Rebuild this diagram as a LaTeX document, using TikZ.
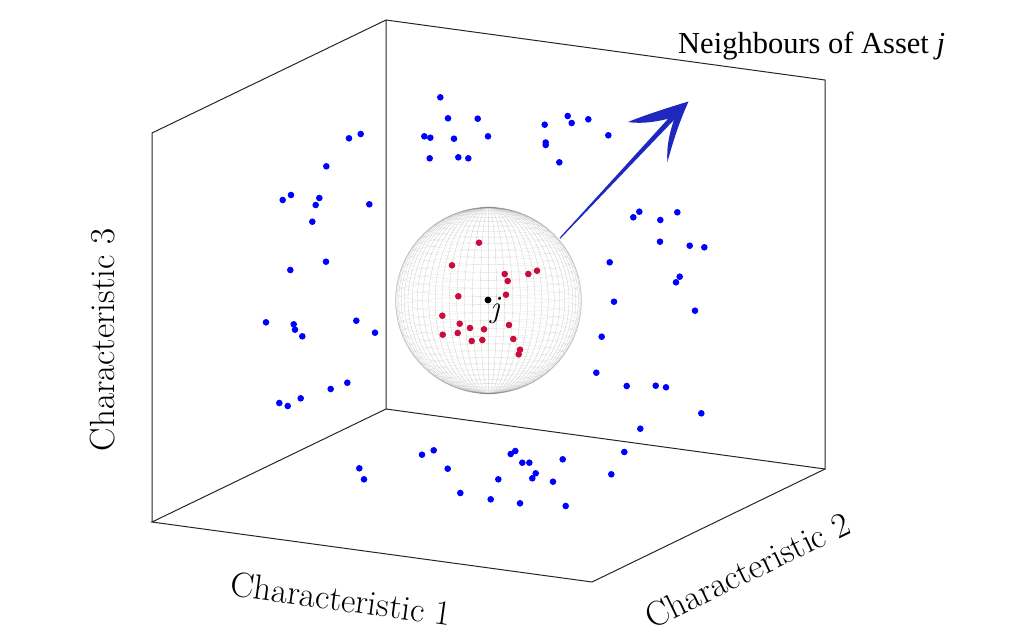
\documentclass[tikz,border=0pt]{standalone}
\usepackage{fontspec}
\usetikzlibrary{calc}
\newfontfamily\titlefont{Liberation Serif}
\definecolor{dotblue}{RGB}{0,0,255}
\definecolor{dotred}{RGB}{200,12,60}
\definecolor{arrowblue}{RGB}{30,40,190}
\tikzset{
  boxline/.style={draw=black!85, line width=1pt},
  bluedot/.style={fill=dotblue},
  reddot/.style={fill=dotred},
  meshline/.style={draw=black!50, line width=0.3pt, opacity=0.2},
  axislabel/.style={font=\fontsize{35}{42}\selectfont, inner sep=0pt},
}
\begin{document}
\begin{tikzpicture}[x=1pt,y=-1pt]
\useasboundingbox (0,0) rectangle (1024,640);
% box corners
\coordinate (BT) at (386,20);
\coordinate (BB) at (386,409);
\coordinate (LT) at (152,133);
\coordinate (LB) at (152,522);
\coordinate (RT) at (825,80);
\coordinate (RB) at (825,469);
\coordinate (FB) at (592,582);
% box edges
\draw[boxline] (LB) -- (LT) -- (BT) -- (RT) -- (RB) -- (BB) -- (BT);
\draw[boxline] (BB) -- (LB) -- (FB) -- (RB);
% blue points
\foreach \x/\y in {440.3/97.3,448/118.3,477.7/118.7,424.3/136.3,430.3/137.7,454/138.7,488/136.3,429.7/158.3,458.3/157.3,468.3/158.3,
349/138.3,360.7/134,326.3/166.3,291/195,282.7/200,319.3/198,315.7/205,369.3/204.3,
312.3/221.7,326/261.7,290.3/270,266/322.3,293.7/324.3,295/329.7,302.3/336.3,356.3/320.7,375/332.7,347.3/382.7,330.7/389,300.7/398.3,279.3/403,287.7/406,
544.7/124.7,567.7/116,571.7/123,588.3/119.3,608.3/135.3,545.7/142.5,545.7/145,559.3/162.3,
633.3/217.3,639.3/211.7,660.3/220,677.3/212.3,660/241.7,689.7/245.7,704.3/247.3,609.7/262.3,
679.7/276.7,676/282.3,614/301.7,695/310.7,601.7/336.7,596.3/372.7,626.7/386,655.7/385.7,666/387.3,701.3/413.3,640.3/428.7,
562.7/459.3,624.3/452,611.3/474.3,565.7/506,
359.3/468.3,364/479.3,422/454.7,433.7/450.3,447.7/468.7,460.3/493,490.7/499.3,498.3/479.3,510.7/454,515.3/451,522.3/462.7,529.3/462.7,535.7/473.3,532.3/478.3,520/503.3,553/481.7}
  \fill[bluedot] (\x,\y) circle[radius=3.3pt];
% sphere
\coordinate (C) at (488.5,300.5);
\fill[white] (C) circle[radius=93pt];
\foreach \a in {0,5,...,175}
  \draw[meshline] (C) ellipse[x radius={93*abs(cos(\a))*1pt}, y radius=93pt];
\foreach \l in {-85,-80,...,85}
  \draw[meshline] ($(C)+(0,{-93*sin(\l)})$) ellipse[x radius={93*cos(\l)*1pt}, y radius={93*cos(\l)*0.13*1pt}];
\draw[draw=black!40, line width=0.4pt, opacity=0.5] (C) circle[radius=93pt];
% red points
\foreach \x/\y in {479/242.7,452/265.3,504.7/274,507.7/281,528.3/274,537/270.7,458.3/296.3,506/294.7,442.3/315.7,459.7/323.7,470/328,484/329.3,509/325,442.7/334.7,457.7/333,471.7/341,482.3/340,513.3/339,520/349.7,518.7/354.3}
  \fill[reddot] (\x,\y) circle[radius=3.3pt];
% asset j
\fill[black] (488,300) circle[radius=3.4pt];
\node[font=\fontsize{31}{37}\selectfont\itshape, inner sep=0pt, anchor=base] (jlab) at (495,317) {j};
% arrow
\fill[arrowblue] (559.6,237.8) -- (680.5,105.2) -- (684.5,109) -- (560.4,238.6) -- cycle;
\fill[arrowblue] (688.5,101.5) .. controls (670,107) and (645,115) .. (628,122)
  .. controls (645,124.5) and (662,120.5) .. (675,117)
  .. controls (670,130) and (666,148) .. (667.5,162)
  .. controls (672,145) and (678,125) .. (688.5,101.5) -- cycle;
% labels
\node[font=\titlefont\fontsize{30.5}{36}\selectfont, inner sep=0pt, anchor=base west] (title) at (678,53) {Neighbours of Asset {\itshape j}};
\node[axislabel, rotate=-7.8] (c1) at (341,599) {Characteristic 1};
\node[axislabel, rotate=25.9] (c2) at (747.5,570) {Characteristic 2};
\node[axislabel, rotate=90] (c3) at (103,340) {Characteristic 3};
\end{tikzpicture}
\end{document}
